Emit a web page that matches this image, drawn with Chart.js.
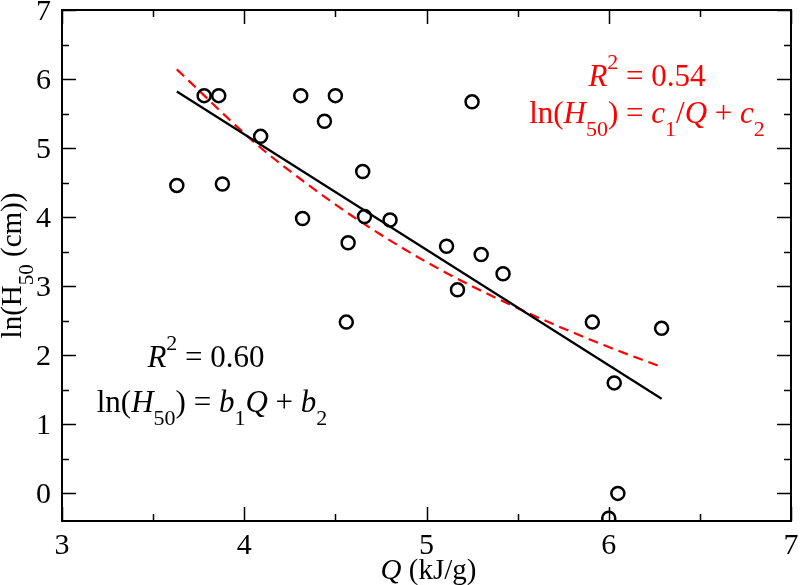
<!DOCTYPE html>
<html>
<head>
<meta charset="utf-8">
<script src="https://cdn.jsdelivr.net/npm/chart.js@4.4.1/dist/chart.umd.min.js"></script>
<style>
  html, body { margin: 0; padding: 0; background: #fff; }
  #wrap { width: 800px; height: 585px; position: relative; }
</style>
</head>
<body>
<div id="wrap"><canvas id="chart"></canvas></div>
<script>
// measured points: Q (kJ/g) vs ln(H50)
const qValues = [3.63, 3.78, 3.86, 3.88, 4.09, 4.31, 4.32, 4.44, 4.50, 4.56, 4.57, 4.65, 4.66, 4.80,
                 5.11, 5.17, 5.25, 5.30, 5.42, 5.91, 6.00, 6.03, 6.05, 6.29];
const lnH50 = [4.46, 5.76, 5.76, 4.48, 5.17, 5.76, 3.98, 5.39, 5.76, 2.48, 3.63, 4.66, 4.01, 3.96,
               3.58, 2.95, 5.67, 3.46, 3.18, 2.48, -0.36, 1.60, 0.00, 2.39];

// linear fit ln(H50) = b1*Q + b2 (end points)
const linFitQ = [3.63, 6.29];
const linFitY = [5.82, 1.37];

// fit ln(H50) = c1/Q + c2
const invFitQ = [3.63, 4.07, 4.32, 4.59, 5.0, 5.51, 5.98, 6.27];
const invFitY = [6.14, 5.05, 4.53, 4.02, 3.35, 2.67, 2.14, 1.85];

const xTicks = [3, 4, 5, 6, 7];
const yTicks = [0, 1, 2, 3, 4, 5, 6, 7];

const SERIF = "'Liberation Serif', 'DejaVu Serif', serif";

function toPts(xs, ys) {
  return xs.map((x, i) => ({ x: x, y: ys[i] }));
}

// draw text made of pieces: [text, style] with style '', 'i', 'sub', 'sup'
function drawRich(ctx, parts, cx, baseline, size, color, rotate) {
  ctx.save();
  ctx.fillStyle = color;
  ctx.textBaseline = "alphabetic";
  ctx.textAlign = "left";
  const fontFor = st => {
    const small = st === "sub" || st === "sup";
    const sz = small ? Math.round(size * 0.72) : size;
    const it = st === "i" ? "italic " : "";
    return it + sz + "px " + SERIF;
  };
  let w = 0;
  parts.forEach(p => { ctx.font = fontFor(p[1]); w += ctx.measureText(p[0]).width; });
  if (rotate) {
    ctx.translate(cx, baseline);
    ctx.rotate(-Math.PI / 2);
    cx = 0; baseline = 0;
  }
  let x = cx - w / 2;
  parts.forEach(p => {
    ctx.font = fontFor(p[1]);
    let dy = 0;
    if (p[1] === "sub") dy = size * 0.42;
    if (p[1] === "sup") dy = -size * 0.55;
    ctx.fillText(p[0], x, baseline + dy);
    x += ctx.measureText(p[0]).width;
  });
  ctx.restore();
}

const framePlugin = {
  id: "frame",
  afterDraw(chart) {
    const ctx = chart.ctx;
    const a = chart.chartArea;
    const xs = chart.scales.x, ys = chart.scales.y;
    ctx.save();
    ctx.strokeStyle = "#000";
    ctx.lineWidth = 2;
    ctx.strokeRect(a.left, a.top, a.right - a.left, a.bottom - a.top);
    ctx.lineWidth = 1.5;
    ctx.beginPath();
    for (let v = 3; v <= 7.001; v += 0.5) {
      const px = Math.round(xs.getPixelForValue(v)) + 0.5;
      const len = Number.isInteger(v) ? 14 : 7;
      ctx.moveTo(px, a.bottom); ctx.lineTo(px, a.bottom - len);
      ctx.moveTo(px, a.top); ctx.lineTo(px, a.top + len);
    }
    for (let v = 0; v <= 7.001; v += 0.5) {
      const py = Math.round(ys.getPixelForValue(v)) + 0.5;
      const len = Number.isInteger(v) ? 14 : 7;
      ctx.moveTo(a.left, py); ctx.lineTo(a.left + len, py);
      ctx.moveTo(a.right, py); ctx.lineTo(a.right - len, py);
    }
    ctx.stroke();

    // tick labels
    ctx.fillStyle = "#000";
    ctx.font = "30px " + SERIF;
    ctx.textAlign = "center";
    ctx.textBaseline = "alphabetic";
    xTicks.forEach(v => ctx.fillText(String(v), xs.getPixelForValue(v), 554));
    ctx.textAlign = "right";
    yTicks.forEach(v => ctx.fillText(String(v), 51, ys.getPixelForValue(v) + 10));
    ctx.restore();

    // axis titles
    drawRich(ctx, [["Q", "i"], [" (kJ/g)", ""]], (a.left + a.right) / 2 + 2, 579, 29, "#000");
    drawRich(ctx, [["ln(H", ""], ["50", "sub"], [" (cm))", ""]], 21, (a.top + a.bottom) / 2, 29, "#000", true);

    // fit annotations
    drawRich(ctx, [["R", "i"], ["2", "sup"], [" = 0.54", ""]], 647, 86, 31, "#ff0000");
    drawRich(ctx, [["ln(", ""], ["H", "i"], ["50", "sub"], [") = ", ""], ["c", "i"], ["1", "sub"],
                   ["/", ""], ["Q", "i"], [" + ", ""], ["c", "i"], ["2", "sub"]], 647, 123, 31, "#ff0000");
    drawRich(ctx, [["R", "i"], ["2", "sup"], [" = 0.60", ""]], 206, 367, 31, "#000");
    drawRich(ctx, [["ln(", ""], ["H", "i"], ["50", "sub"], [") = ", ""], ["b", "i"], ["1", "sub"],
                   ["Q", "i"], [" + ", ""], ["b", "i"], ["2", "sub"]], 212, 412, 31, "#000");
  }
};

new Chart(document.getElementById("chart"), {
  type: "scatter",
  data: {
    datasets: [
      {
        label: "data",
        data: toPts(qValues, lnH50),
        pointStyle: "circle",
        pointRadius: 6.5,
        pointBorderWidth: 2.5,
        borderColor: "#000",
        backgroundColor: "rgba(0,0,0,0)",
        showLine: false
      },
      {
        label: "linear fit",
        data: toPts(linFitQ, linFitY),
        showLine: true,
        borderColor: "#000",
        borderWidth: 2.2,
        pointRadius: 0
      },
      {
        label: "inverse fit",
        data: toPts(invFitQ, invFitY),
        showLine: true,
        borderColor: "#ff0000",
        borderWidth: 2.2,
        borderDash: [10, 6],
        cubicInterpolationMode: "monotone",
        pointRadius: 0
      }
    ]
  },
  options: {
    responsive: true,
    maintainAspectRatio: false,
    animation: false,
    layout: { padding: { top: 10, right: 7, left: 0, bottom: 0 } },
    plugins: {
      legend: { display: false },
      tooltip: { enabled: false }
    },
    scales: {
      x: {
        type: "linear",
        min: 3,
        max: 7,
        afterBuildTicks: s => { s.ticks = xTicks.map(v => ({ value: v })); },
        afterFit: s => { s.height = 64; },
        grid: { display: false, drawTicks: false },
        border: { display: false },
        ticks: { display: false }
      },
      y: {
        type: "linear",
        min: -0.4,
        max: 7,
        afterBuildTicks: s => { s.ticks = yTicks.map(v => ({ value: v })); },
        afterFit: s => { s.width = 62; },
        grid: { display: false, drawTicks: false },
        border: { display: false },
        ticks: { display: false }
      }
    }
  },
  plugins: [framePlugin]
});
</script>
</body>
</html>
